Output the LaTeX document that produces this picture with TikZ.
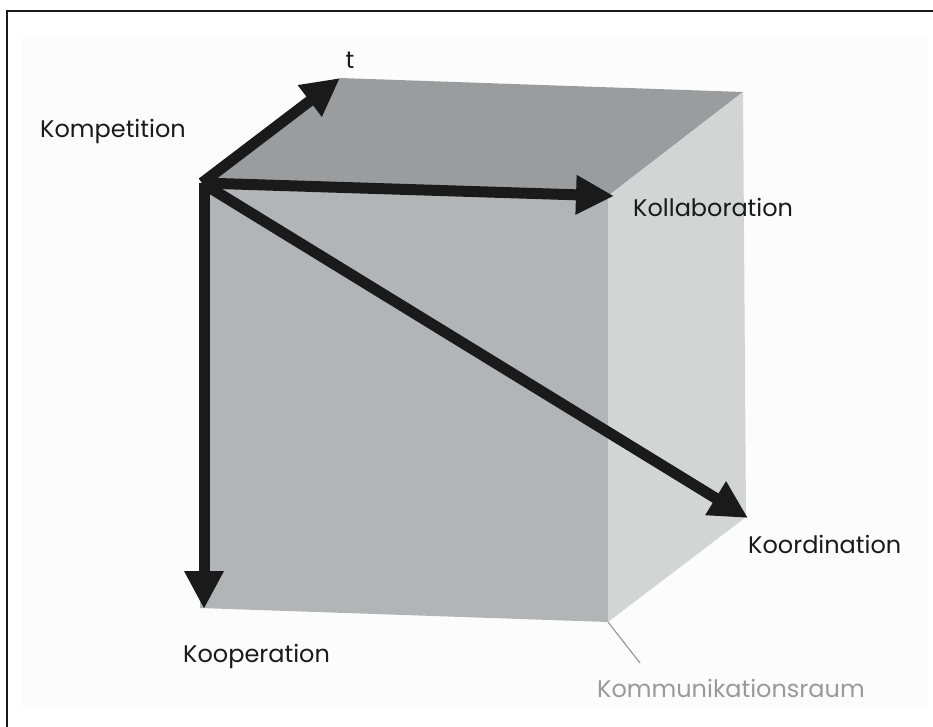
\documentclass[tikz,border=0pt]{standalone}
\usepackage{fontspec}
\setmainfont{Poppins}
\usetikzlibrary{arrows.meta, positioning}

\definecolor{topgray}{HTML}{9B9C9E}
\definecolor{frontgray}{HTML}{B2B5B6}
\definecolor{sidegray}{HTML}{D3D4D4}
\definecolor{panel}{HTML}{FCFCFC}
\definecolor{ink}{HTML}{1A1A1A}
\definecolor{labelgray}{HTML}{9A9A9A}

\tikzset{
  axis/.style={line width=11pt, ink, -{Triangle[length=38pt, width=37pt]}},
  axislabel/.style={font=\fontsize{24}{28}\selectfont, text=ink, inner sep=0pt},
}

\begin{document}
\begin{tikzpicture}[x=1pt, y=-1pt]
  \useasboundingbox (0,0) rectangle (933,727);
  \fill[panel] (22,35) rectangle (927,710);
  \draw[line width=2pt, ink] (933,11.5) -- (7,11.5) -- (7,727);

  \coordinate (o) at (202,183);
  \coordinate (ft) at (608,196);
  \coordinate (fb) at (608,622);
  \coordinate (lb) at (200,608);
  \coordinate (bl) at (340,78);
  \coordinate (br) at (743,92);
  \coordinate (bb) at (746,517);

  \fill[topgray] (o) -- (bl) -- (br) -- (ft) -- cycle;
  \fill[frontgray] (o) -- (ft) -- (fb) -- (lb) -- cycle;
  \fill[sidegray] (ft) -- (br) -- (bb) -- (fb) -- cycle;

  \coordinate (koop) at (204,609);
  \coordinate (koord) at (748,518);
  \coordinate (koll) at (614,196);

  \draw[axis] (o) -- (bl);
  \draw[axis] (o) -- (koll);
  \draw[axis] (o) -- (koord);
  \draw[axis] ([xshift=2pt]o) -- (koop);

  \node[axislabel] (tl) at (350,60) {t};
  \node[axislabel, anchor=west] (kompetition) at (40,131) {Kompetition};
  \node[axislabel, anchor=west] (kollaboration) at (633,207) {Kollaboration};
  \node[axislabel, anchor=west] (koordination) at (748,544) {Koordination};
  \node[axislabel, anchor=west] (kooperation) at (183,656) {Kooperation};
  \node[axislabel, anchor=west, text=labelgray] (raum) at (597,688) {Kommunikationsraum};

  \coordinate (raumtip) at (640,663);
  \draw[labelgray, line width=1.2pt] (fb) -- (raumtip);
\end{tikzpicture}
\end{document}
